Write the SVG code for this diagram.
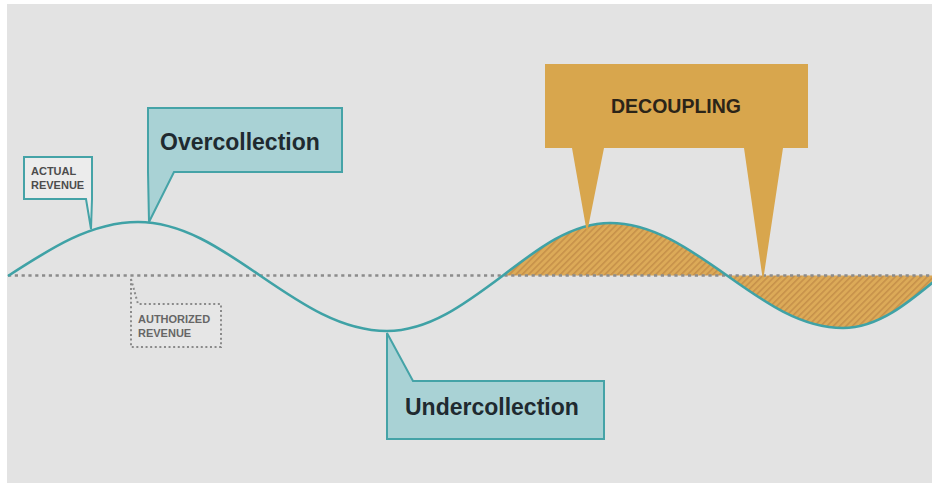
<svg xmlns="http://www.w3.org/2000/svg" width="932" height="483" viewBox="0 0 932 483">
<style>
.wave{fill:none;stroke:#3fa2a6;stroke-width:2.6}
.axis{fill:none;stroke:#8c8c8c;stroke-width:2.6;stroke-dasharray:3.2 3.6}
.teal{fill:#a9d2d5;stroke:#45a3a7;stroke-width:2}
.small{fill:#ececec;stroke:#45a3a7;stroke-width:2}
.dotbox{fill:#e6e6e6;stroke:#8a8a8a;stroke-width:2;stroke-dasharray:2 2.6}
.gold{fill:#d8a64d}
.big{font-family:"Liberation Sans",Arial,sans-serif;font-weight:bold;font-size:23px;fill:#1f2a30}
.gtxt{font-family:"Liberation Sans",Arial,sans-serif;font-weight:bold;font-size:19.5px;fill:#2b2418}
.lbl{font-family:"Liberation Sans",Arial,sans-serif;font-weight:bold;font-size:11px;fill:#4c4c4c}
.lbl2{font-family:"Liberation Sans",Arial,sans-serif;font-weight:bold;font-size:11px;fill:#666666}
</style>
<defs>
<pattern id="hatch" patternUnits="userSpaceOnUse" width="4.5" height="4.5" patternTransform="rotate(45)">
<rect width="4.5" height="4.5" fill="#dcaa58"/>
<rect width="1.6" height="4.5" fill="#c6914a"/>
</pattern>
</defs>
<rect x="0" y="0" width="932" height="483" fill="#ffffff"/>
<rect x="7" y="4" width="925" height="479" fill="#e3e3e3"/>
<g id="hatched-area">
<path d="M503,275.5 C537.9,248.6 571.5,223 610,223 C652.1,223 688.9,248.6 727,275.5 C764.8,302.4 801.2,328 843,328 C878.3,328 909,302.4 941,275.5 Z" fill="url(#hatch)"/>
</g>
<g id="connectors">
<line id="authorized-line" class="axis" x1="8" y1="275.5" x2="932" y2="275.5"/>
<path id="actual-wave" class="wave" d="M8,276 C50.4,248.4 91.2,222 138,222 C181.9,222 220.2,248.1 260,275.5 C301.4,303.9 341.3,331 387,331 C428.8,331 465.2,303.9 503,275.5 C537.9,248.6 571.5,223 610,223 C652.1,223 688.9,248.6 727,275.5 C764.8,302.4 801.2,328 843,328 C878.3,328 909,302.4 941,275.5"/>
</g>
<g id="actual-revenue">
<path class="small" d="M24,157 H92 V199 L91,229 L86,199 H24 Z"/>
<text class="lbl" x="31" y="175">ACTUAL</text>
<text class="lbl" x="31" y="189">REVENUE</text>
</g>
<g id="authorized-revenue">
<path class="dotbox" d="M131,279 L138,304 H221 V347 H131 Z"/>
<text class="lbl2" x="138" y="323">AUTHORIZED</text>
<text class="lbl2" x="138" y="337">REVENUE</text>
</g>
<g id="overcollection">
<path class="teal" d="M148,108 H342 V172 H174 L149,222 L148,172 Z"/>
<text class="big" x="160" y="150">Overcollection</text>
</g>
<g id="undercollection">
<path class="teal" d="M387,333 L413,381 H604 V439 H387 Z"/>
<text class="big" x="405" y="415">Undercollection</text>
</g>
<g id="decoupling">
<path class="gold" d="M545,64 H808 V148 H783 L763,281 L744,148 H604 L587,233 L572,148 H545 Z"/>
<text class="gtxt" x="611" y="113">DECOUPLING</text>
</g>
</svg>
